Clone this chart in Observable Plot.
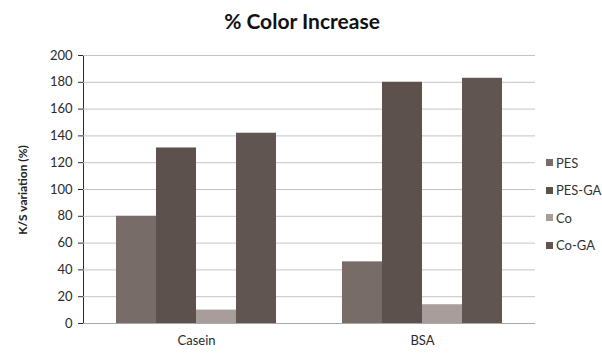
<!DOCTYPE html>
<html><head><meta charset="utf-8">
<script src="https://cdn.jsdelivr.net/npm/d3@7"></script>
<script src="https://cdn.jsdelivr.net/npm/@observablehq/plot@0.6"></script>
<style>
body{margin:0;background:#fff;font-family:Lato,"Open Sans",sans-serif}
#wrap{position:relative;width:602px;height:354px;overflow:hidden}
#chart{position:absolute;left:0;top:0}
#title{position:absolute;left:0;width:604px;top:8px;text-align:center;font-weight:bold;font-size:21px;color:#111}
#ylabel{position:absolute;left:22px;top:190px;transform:translate(-50%,-50%) rotate(-90deg);font-weight:bold;font-size:12px;color:#222;white-space:nowrap}
#legend{position:absolute;left:546px;top:149px;font-size:13px;color:#333}
.item{height:27.5px;display:flex;align-items:center}
.sw{width:7px;height:7px;margin-right:3px}
</style></head><body>
<div id="wrap"><div id="chart"></div><div id="title">% Color Increase</div><div id="ylabel">K/S variation (%)</div><div id="legend"></div></div>
<script>
const categories = ["Casein", "BSA"];
const series = ["PES", "PES-GA", "Co", "Co-GA"];
const caseinValues = [80, 131, 10, 142];
const bsaValues = [46, 180, 14, 183];
const colors = ["#776c68", "#5d514d", "#a89d9b", "#615551"];
const yTicks = [0, 20, 40, 60, 80, 100, 120, 140, 160, 180, 200];

const data = [];
series.forEach((s, i) => data.push({cat: "Casein", s, v: caseinValues[i]}));
series.forEach((s, i) => data.push({cat: "BSA", s, v: bsaValues[i]}));

const chart = Plot.plot({
  width: 602,
  height: 354,
  marginLeft: 82,
  marginRight: 67,
  marginTop: 55,
  marginBottom: 31,
  style: {fontSize: "13px", fontFamily: "Lato, 'Open Sans', sans-serif", color: "#2a2a2a", background: "#fff"},
  fx: {domain: categories, padding: 0, label: null, tickSize: 0, tickPadding: 12},
  x: {domain: series, paddingInner: 0, paddingOuter: 0.76, axis: null},
  y: {domain: [0, 200], ticks: yTicks, tickSize: 5, tickPadding: 6, label: null, line: true},
  color: {domain: series, range: colors},
  marks: [
    Plot.ruleY(yTicks, {stroke: "#c4c4c4", strokeOpacity: 1}),
    Plot.barY(data, {fx: "cat", x: "s", y: "v", fill: "s"}),
    Plot.ruleY([0], {stroke: "#a8a8a8", strokeOpacity: 1})
  ]
});
document.getElementById("chart").appendChild(chart);

const legend = document.getElementById("legend");
series.forEach((s, i) => {
  const d = document.createElement("div");
  d.className = "item";
  d.innerHTML = `<span class="sw" style="background:${colors[i]}"></span><span>${s}</span>`;
  legend.appendChild(d);
});
</script>
</body></html>
